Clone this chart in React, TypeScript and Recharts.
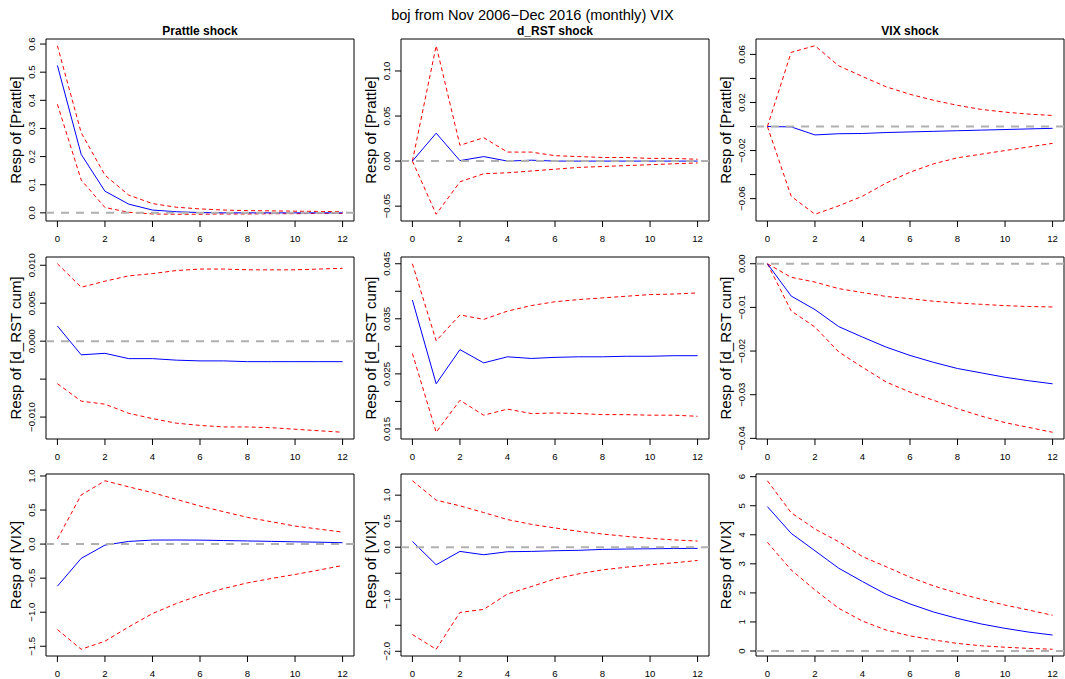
import { Line, LineChart, ReferenceArea, ReferenceLine, XAxis, YAxis } from 'recharts';

// horizons (months after the shock)
const horizons = [0, 1, 2, 3, 4, 5, 6, 7, 8, 9, 10, 11, 12];
const horizonTicks = [0, 2, 4, 6, 8, 10, 12];

const shockTitles = ['Prattle shock', 'd_RST shock', 'VIX shock'];
const respLabels = ['Resp of [Prattle]', 'Resp of [d_RST cum]', 'Resp of [VIX]'];

// Prattle responses
const prattlePrattle = [0.524, 0.208, 0.077, 0.031, 0.01, 0.004, 0.001, 0.0, 0.0, 0.0, 0.0, 0.0, 0.0];
const prattlePrattleHi = [0.594, 0.285, 0.134, 0.063, 0.033, 0.02, 0.014, 0.01, 0.008, 0.007, 0.006, 0.005, 0.004];
const prattlePrattleLo = [0.386, 0.117, 0.019, 0.002, -0.004, -0.005, -0.005, -0.004, -0.004, -0.003, -0.003, -0.002, -0.002];

const prattleRst = [0, 0.031, 0.0005, 0.005, 0.0, 0.001, 0.0, 0.0, 0.0, 0.0, 0.0, 0.0, 0.0];
const prattleRstHi = [0, 0.128, 0.0175, 0.026, 0.01, 0.01, 0.006, 0.005, 0.004, 0.004, 0.003, 0.003, 0.002];
const prattleRstLo = [0, -0.059, -0.023, -0.014, -0.013, -0.011, -0.009, -0.007, -0.006, -0.005, -0.004, -0.003, -0.002];

const prattleVix = [0, -0.0003, -0.007, -0.006, -0.0058, -0.005, -0.0045, -0.004, -0.0035, -0.003, -0.0025, -0.002, -0.0015];
const prattleVixHi = [0, 0.0617, 0.0672, 0.0505, 0.0416, 0.033, 0.0268, 0.0218, 0.0176, 0.0142, 0.012, 0.0103, 0.0092];
const prattleVixLo = [0, -0.058, -0.073, -0.066, -0.058, -0.047, -0.038, -0.031, -0.026, -0.023, -0.02, -0.017, -0.014];

// d_RST cum responses
const rstPrattle = [0.002, -0.0018, -0.0016, -0.0023, -0.0023, -0.0025, -0.0026, -0.0026, -0.0027, -0.0027, -0.0027, -0.0027, -0.0027];
const rstPrattleHi = [0.0102, 0.0071, 0.0079, 0.0086, 0.0089, 0.0093, 0.0095, 0.0095, 0.0094, 0.0094, 0.0094, 0.0095, 0.0096];
const rstPrattleLo = [-0.0056, -0.0079, -0.0083, -0.0095, -0.0102, -0.0108, -0.0111, -0.0113, -0.0113, -0.0114, -0.0116, -0.0118, -0.012];

const rstRst = [0.0384, 0.0232, 0.0294, 0.027, 0.0281, 0.0278, 0.028, 0.0281, 0.0281, 0.0282, 0.0282, 0.0283, 0.0283];
const rstRstHi = [0.045, 0.031, 0.0357, 0.0349, 0.0364, 0.0374, 0.0381, 0.0385, 0.0388, 0.0391, 0.0394, 0.0395, 0.0397];
const rstRstLo = [0.0287, 0.0144, 0.0202, 0.0175, 0.0186, 0.0178, 0.0179, 0.0178, 0.0176, 0.0176, 0.0175, 0.0175, 0.0173];

const rstVix = [0, -0.0074, -0.0105, -0.0144, -0.0168, -0.0191, -0.021, -0.0226, -0.024, -0.025, -0.026, -0.0268, -0.0275];
const rstVixHi = [0, -0.0031, -0.0042, -0.0057, -0.0066, -0.0075, -0.008, -0.0086, -0.009, -0.0093, -0.0096, -0.0098, -0.0099];
const rstVixLo = [0, -0.0108, -0.0145, -0.0202, -0.0237, -0.0271, -0.0294, -0.0313, -0.0332, -0.0349, -0.0364, -0.0375, -0.0386];

// VIX responses
const vixPrattle = [-0.618, -0.21, -0.015, 0.039, 0.059, 0.06, 0.058, 0.052, 0.046, 0.04, 0.033, 0.028, 0.02];
const vixPrattleHi = [0.074, 0.72, 0.93, 0.84, 0.755, 0.657, 0.559, 0.475, 0.392, 0.328, 0.265, 0.22, 0.176];
const vixPrattleLo = [-1.255, -1.544, -1.426, -1.216, -1.02, -0.873, -0.75, -0.652, -0.569, -0.505, -0.446, -0.382, -0.314];

const vixRst = [0.112, -0.338, -0.081, -0.145, -0.087, -0.081, -0.068, -0.06, -0.042, -0.035, -0.03, -0.025, -0.023];
const vixRstHi = [1.277, 0.904, 0.795, 0.666, 0.531, 0.44, 0.369, 0.305, 0.253, 0.208, 0.17, 0.14, 0.118];
const vixRstLo = [-1.678, -1.961, -1.253, -1.195, -0.899, -0.757, -0.609, -0.512, -0.435, -0.384, -0.338, -0.3, -0.255];

const vixVix = [4.97, 4.05, 3.45, 2.85, 2.39, 1.95, 1.62, 1.34, 1.12, 0.93, 0.78, 0.65, 0.55];
const vixVixHi = [5.86, 4.76, 4.2, 3.76, 3.25, 2.9, 2.54, 2.24, 1.99, 1.78, 1.58, 1.41, 1.23];
const vixVixLo = [3.74, 2.79, 2.1, 1.47, 1.03, 0.72, 0.52, 0.38, 0.26, 0.18, 0.13, 0.09, 0.06];

// y ticks, '' = tick mark without a label
const ticksA = [0, 0.1, 0.2, 0.3, 0.4, 0.5, 0.6];
const labelsA = ['0.0', '0.1', '0.2', '0.3', '0.4', '0.5', '0.6'];
const ticksB = [-0.05, 0, 0.05, 0.1];
const labelsB = ['\u22120.05', '0.00', '0.05', '0.10'];
const ticksC = [-0.06, -0.04, -0.02, 0, 0.02, 0.04, 0.06];
const labelsC = ['\u22120.06', '', '\u22120.02', '', '0.02', '', '0.06'];
const ticksD = [-0.01, -0.005, 0, 0.005, 0.01];
const labelsD = ['\u22120.010', '', '0.000', '0.005', '0.010'];
const ticksE = [0.015, 0.02, 0.025, 0.03, 0.035, 0.04, 0.045];
const labelsE = ['0.015', '', '0.025', '', '0.035', '', '0.045'];
const ticksF = [-0.04, -0.03, -0.02, -0.01, 0];
const labelsF = ['\u22120.04', '\u22120.03', '\u22120.02', '\u22120.01', '0.00'];
const ticksG = [-1.5, -1, -0.5, 0, 0.5, 1];
const labelsG = ['\u22121.5', '\u22121.0', '\u22120.5', '0.0', '0.5', '1.0'];
const ticksH = [-2, -1.5, -1, -0.5, 0, 0.5, 1];
const labelsH = ['\u22122.0', '', '\u22121.0', '', '0.0', '0.5', '1.0'];
const ticksI = [0, 1, 2, 3, 4, 5, 6];
const labelsI = ['0', '1', '2', '3', '4', '5', '6'];

const panels = [
  { mid: prattlePrattle, hi: prattlePrattleHi, lo: prattlePrattleLo, ticks: ticksA, labels: labelsA },
  { mid: prattleRst, hi: prattleRstHi, lo: prattleRstLo, ticks: ticksB, labels: labelsB },
  { mid: prattleVix, hi: prattleVixHi, lo: prattleVixLo, ticks: ticksC, labels: labelsC },
  { mid: rstPrattle, hi: rstPrattleHi, lo: rstPrattleLo, ticks: ticksD, labels: labelsD },
  { mid: rstRst, hi: rstRstHi, lo: rstRstLo, ticks: ticksE, labels: labelsE },
  { mid: rstVix, hi: rstVixHi, lo: rstVixLo, ticks: ticksF, labels: labelsF },
  { mid: vixPrattle, hi: vixPrattleHi, lo: vixPrattleLo, ticks: ticksG, labels: labelsG },
  { mid: vixRst, hi: vixRstHi, lo: vixRstLo, ticks: ticksH, labels: labelsH },
  { mid: vixVix, hi: vixVixHi, lo: vixVixLo, ticks: ticksI, labels: labelsI },
];

const FONT = '"Liberation Sans", Arial, Helvetica, sans-serif';
const COL_W = 355;
const BOX_TOPS = [39, 257, 474];
const PLOT_H = 182;
const TOP_PAD = 13;
const X_AXIS_H = 23;
const Y_AXIS_W = 46;
const X_DOMAIN: [number, number] = [-0.48, 12.48];

// R-style axis range: data range plus 4% on each side
function padRange(values: number[]): [number, number] {
  const lo = Math.min(...values);
  const hi = Math.max(...values);
  const d = (hi - lo) * 0.04;
  return [lo - d, hi + d];
}

type PanelSpec = (typeof panels)[number];

function IrfPanel({ p }: { p: PanelSpec }) {
  const data = horizons.map((h, i) => ({ h, mid: p.mid[i], hi: p.hi[i], lo: p.lo[i] }));
  const [y0, y1] = padRange([...p.mid, ...p.hi, ...p.lo]);

  const yTick = (props: any) => {
    const idx = p.ticks.findIndex((t) => Math.abs(t - props.payload.value) < 1e-9);
    const label = idx >= 0 ? p.labels[idx] : '';
    if (!label) return <g />;
    const x = Y_AXIS_W - 11;
    return (
      <text x={x} y={props.y} transform={`rotate(-90, ${x}, ${props.y})`} textAnchor="middle"
        fontSize={9.6} fontFamily={FONT} fill="#000">
        {label}
      </text>
    );
  };

  const xTick = (props: any) => (
    <text x={props.x} y={TOP_PAD + PLOT_H + 20.5} textAnchor="middle" fontSize={9.6} fontFamily={FONT} fill="#000">
      {props.payload.value}
    </text>
  );

  return (
    <LineChart width={COL_W} height={TOP_PAD + PLOT_H + X_AXIS_H} data={data}
      margin={{ top: TOP_PAD, right: 1, bottom: 0, left: 0 }}>
      <XAxis dataKey="h" type="number" domain={X_DOMAIN} ticks={horizonTicks} allowDataOverflow interval={0}
        axisLine={false} stroke="#000" tickSize={6} height={X_AXIS_H} tick={xTick} />
      <YAxis type="number" domain={[y0, y1]} ticks={p.ticks} allowDataOverflow interval={0}
        axisLine={false} stroke="#000" tickSize={6} width={Y_AXIS_W} tick={yTick} />
      <ReferenceArea x1={X_DOMAIN[0]} x2={X_DOMAIN[1]} y1={y0} y2={y1} fill="none" stroke="#000" strokeWidth={1} />
      <Line type="linear" dataKey="hi" stroke="#ff0000" strokeDasharray="4 3" strokeWidth={1} dot={false} isAnimationActive={false} />
      <Line type="linear" dataKey="lo" stroke="#ff0000" strokeDasharray="4 3" strokeWidth={1} dot={false} isAnimationActive={false} />
      <Line type="linear" dataKey="mid" stroke="#0000ff" strokeWidth={1} dot={false} isAnimationActive={false} />
      <ReferenceLine y={0} stroke="#b0b0b0" strokeWidth={2} strokeDasharray="8 7" />
    </LineChart>
  );
}

export default function App() {
  return (
    <div style={{ position: 'absolute', left: 0, top: 0, width: 1065, height: 679, background: '#fff' }}>
      {panels.map((p, i) => {
        const row = Math.floor(i / 3);
        const col = i % 3;
        return (
          <div key={i} style={{ position: 'absolute', left: col * COL_W, top: BOX_TOPS[row] - TOP_PAD }}>
            <IrfPanel p={p} />
          </div>
        );
      })}
      <svg width={1065} height={679} style={{ position: 'absolute', left: 0, top: 0, pointerEvents: 'none' }}>
        <text x={532.5} y={20} textAnchor="middle" fontSize={14.6} fontFamily={FONT} fill="#000">
          boj from Nov 2006{'\u2212'}Dec 2016 (monthly) VIX
        </text>
        {shockTitles.map((t, col) => (
          <text key={t} x={col * COL_W + Y_AXIS_W + 154} y={BOX_TOPS[0] - 4} textAnchor="middle"
            fontSize={12} fontWeight="bold" fontFamily={FONT} fill="#000">
            {t}
          </text>
        ))}
        {respLabels.map((lab, row) =>
          [0, 1, 2].map((col) => {
            const x = col * COL_W + 20.7;
            const y = BOX_TOPS[row] + PLOT_H / 2;
            return (
              <text key={`${row}-${col}`} x={x} y={y} transform={`rotate(-90, ${x}, ${y})`} textAnchor="middle"
                fontSize={15} fontFamily={FONT} fill="#000">
                {lab}
              </text>
            );
          })
        )}
      </svg>
    </div>
  );
}
